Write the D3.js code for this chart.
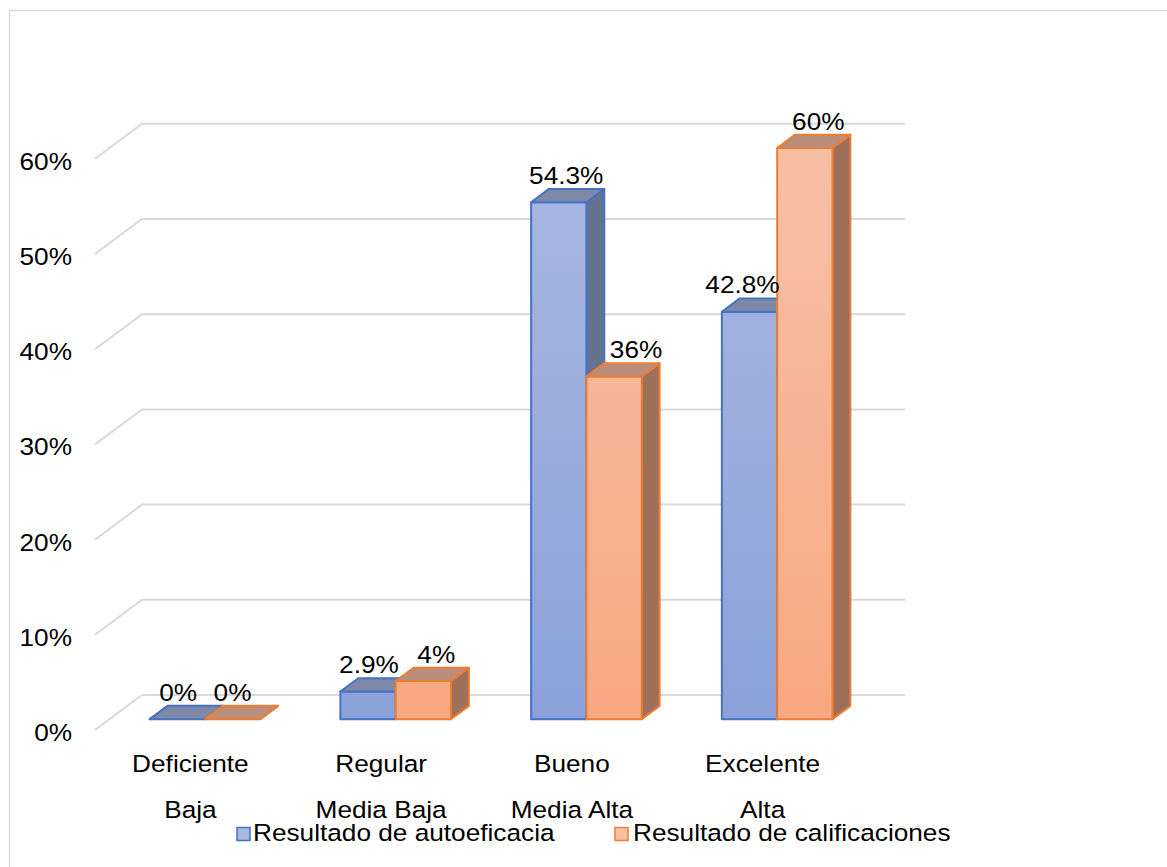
<!DOCTYPE html>
<html>
<head>
<meta charset="utf-8">
<script src="https://cdn.jsdelivr.net/npm/d3@7"></script>
<style>
  html, body { margin: 0; padding: 0; background: #fff; }
  svg { display: block; }
  text { font-family: "Liberation Sans", Arial, sans-serif; fill: #000; }
</style>
</head>
<body>
<svg id="chart" width="1167" height="867"></svg>
<script>
// ---- data ----
const categories = ["Deficiente", "Regular", "Bueno", "Excelente"];
const subLabels = ["Baja", "Media Baja", "Media Alta", "Alta"];
const seriesNames = ["Resultado de autoeficacia", "Resultado de calificaciones"];
const autoeficacia = [0, 0.029, 0.543, 0.428];
const calificaciones = [0, 0.04, 0.36, 0.60];
const valueLabels = [["0%", "2.9%", "54.3%", "42.8%"], ["0%", "4%", "36%", "60%"]];
const yTicks = [0, 0.1, 0.2, 0.3, 0.4, 0.5, 0.6];
const yTickLabels = ["0%", "10%", "20%", "30%", "40%", "50%", "60%"];

// ---- layout ----
const W = 1167, H = 867;
const svg = d3.select("#chart");
const FONT = 24.5, SX = 1.07;
const depthX = 47, depthY = -35;          // full floor depth
const barT0 = 0.31, barT1 = 0.69;         // bar position inside depth
const labelShift = [[-8, -8, -1.5, -16], [-9, 4, 13, 4.5]];

const x = d3.scaleBand().domain(categories).range([95, 858]).paddingInner(0.42).paddingOuter(0.21);
const x1 = d3.scaleBand().domain([0, 1]).range([0, x.bandwidth()]).padding(0);
const y = d3.scaleLinear().domain([0, 0.6]).range([730, 730 - 571.2]);

function addText(g, px, py, str, anchor) {
  return g.append("text")
    .attr("transform", `translate(${px},${py}) scale(${SX},1)`)
    .attr("text-anchor", anchor || "start")
    .attr("font-size", FONT)
    .text(str);
}

const colors = [
  { stroke: "#4472c4", top: "#7e89a8", side: "#66738f", g0: "#a9b7e1", g1: "#8ba1d9" },
  { stroke: "#ed7d31", top: "#ba8e7b", side: "#9e705b", g0: "#f7bfa4", g1: "#f8a882" }
];

const defs = svg.append("defs");
colors.forEach((c, i) => {
  const g = defs.append("linearGradient").attr("id", "grad" + i)
    .attr("gradientUnits", "userSpaceOnUse")
    .attr("x1", 0).attr("y1", y(0.6)).attr("x2", 0).attr("y2", y(0));
  g.append("stop").attr("offset", "0%").attr("stop-color", c.g0);
  g.append("stop").attr("offset", "100%").attr("stop-color", c.g1);
});

// chart border
svg.append("rect").attr("x", 9.5).attr("y", 10.5).attr("width", W + 20).attr("height", H + 20)
  .attr("fill", "none").attr("stroke", "#d9d9d9").attr("stroke-width", 1.5);

// gridlines (back wall + left side wall diagonal)
const grid = svg.append("g");
const xL = x.range()[0], xR = x.range()[1];
yTicks.forEach(t => {
  const yy = y(t);
  grid.append("polyline")
    .attr("points", [[xL, yy], [xL + depthX, yy + depthY], [xR + depthX, yy + depthY]].map(p => p.join(",")).join(" "))
    .attr("fill", "none").attr("stroke", "#d9d9d9").attr("stroke-width", 2);
});

// y-axis labels
const ya = svg.append("g");
yTicks.forEach((t, i) => addText(ya, 72, y(t) + 11, yTickLabels[i], "end"));

// bars (3D)
const series = [autoeficacia, calificaciones];
const bars = svg.append("g");
const fx = depthX * barT0, fy = depthY * barT0;
const bdx = depthX * (barT1 - barT0), bdy = depthY * (barT1 - barT0);
const pts = a => a.map(p => p.join(",")).join(" ");

categories.forEach((cat, ci) => {
  series.forEach((vals, si) => {
    const c = colors[si];
    const v = vals[ci];
    const x0 = x(cat) + x1(si) + fx;
    const x2 = x0 + x1.bandwidth();
    const yb = y(0) + fy;
    const yt = y(v) + fy;
    const g = bars.append("g").attr("stroke", c.stroke).attr("stroke-width", 2).attr("stroke-linejoin", "round");
    g.append("polygon").attr("points", pts([[x2, yb], [x2 + bdx, yb + bdy], [x2 + bdx, yt + bdy], [x2, yt]]))
      .attr("fill", c.side);
    if (v > 0) {
      g.append("rect").attr("x", x0).attr("y", yt).attr("width", x2 - x0).attr("height", yb - yt)
        .attr("fill", `url(#grad${si})`);
    }
    g.append("polygon").attr("points", pts([[x0, yt], [x0 + bdx, yt + bdy], [x2 + bdx, yt + bdy], [x2, yt]]))
      .attr("fill", c.top);
  });
});

// value labels
const vl = svg.append("g");
categories.forEach((cat, ci) => {
  series.forEach((vals, si) => {
    const v = vals[ci];
    const cx = x(cat) + x1(si) + fx + x1.bandwidth() / 2 + bdx / 2 + labelShift[si][ci];
    const ty = y(v) + fy + bdy - 5;
    addText(vl, cx, ty, valueLabels[si][ci], "middle");
  });
});

// category labels
const cl = svg.append("g");
categories.forEach((cat, ci) => {
  const cx = x(cat) + x.bandwidth() / 2;
  addText(cl, cx, 771.5, cat, "middle");
  addText(cl, cx, 818, subLabels[ci], "middle");
});

// legend
const legendBoxX = [237, 615];
const legendTextX = [253, 633];
const leg = svg.append("g");
seriesNames.forEach((name, si) => {
  leg.append("rect").attr("x", legendBoxX[si]).attr("y", 827.5).attr("width", 13).attr("height", 13)
    .attr("fill", colors[si].g0).attr("stroke", colors[si].stroke).attr("stroke-width", 1.5);
  addText(leg, legendTextX[si], 840.5, name, "start");
});
</script>
</body>
</html>
